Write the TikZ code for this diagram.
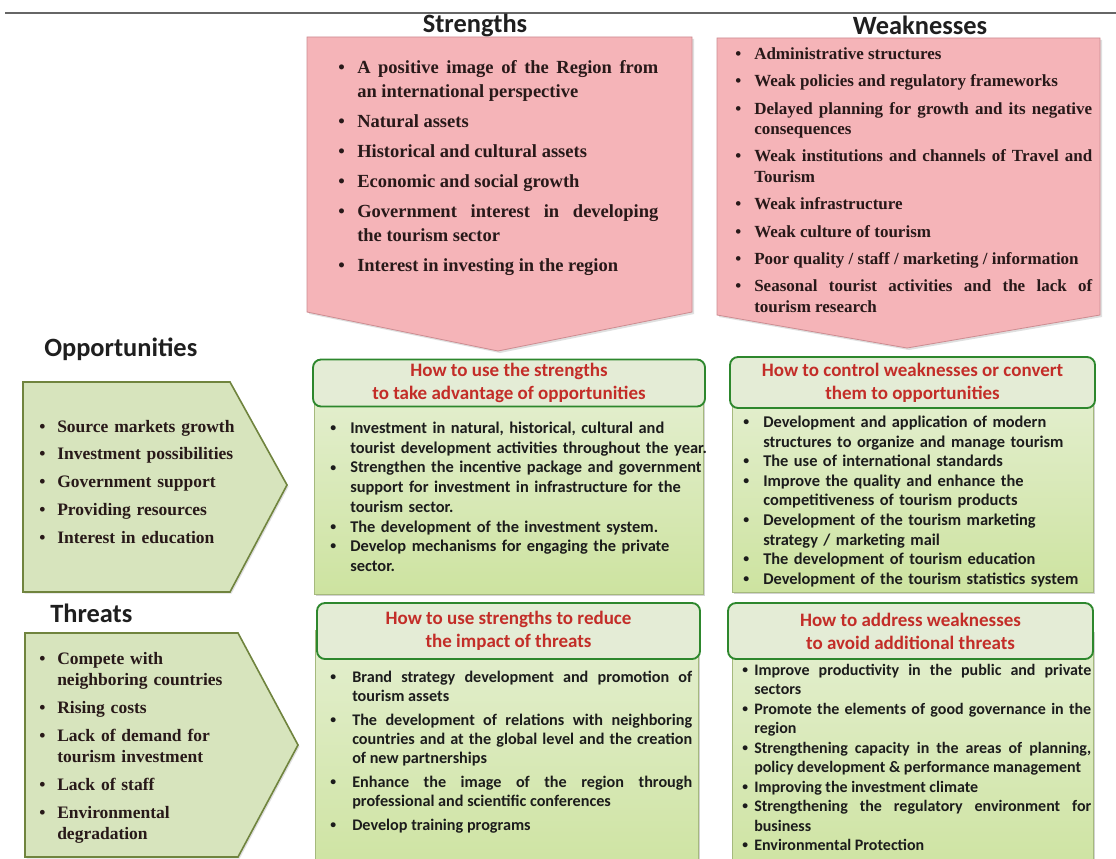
\documentclass[tikz,border=0pt]{standalone}
\usepackage{fontspec}
\usepackage{graphicx}
\setmainfont{Liberation Serif}
\newfontfamily\carl{Carlito}
\usetikzlibrary{shadows}
\definecolor{pinkf}{RGB}{245,180,184}
\definecolor{pinkd}{RGB}{205,140,145}
\definecolor{oppf}{RGB}{215,228,189}
\definecolor{oppd}{RGB}{112,132,62}
\definecolor{bodyt}{RGB}{228,239,208}
\definecolor{bodyb}{RGB}{205,227,160}
\definecolor{bodyd}{RGB}{165,185,125}
\definecolor{hdrf}{RGB}{228,236,214}
\definecolor{hdrd}{RGB}{45,135,45}
\definecolor{hdrt}{RGB}{195,45,40}
\definecolor{ink}{RGB}{40,25,25}
\definecolor{inkq}{RGB}{28,28,28}
\newlength\bulw
\newlength\itgap
\newcommand\bulchar{\textbullet}
\newcommand\sbul{\raisebox{0.12em}{\scalebox{0.72}{\textbullet}}}
\newcommand\lf{\noindent\hangindent=\bulw\hangafter=1\hbox to\bulw{\bulchar\hfil}\ignorespaces}
\newcommand\li{\par\vspace{\itgap}\lf}
\tikzset{
  lst/.style={anchor=base west, inner sep=0pt, text=ink},
  slist/.style={lst, align=justify, text width=240pt,
    font={\fontsize{13.875pt}{18pt}\selectfont\bfseries\setlength\bulw{14.25pt}\setlength\itgap{4.5pt}}},
  wlist/.style={lst, align=justify, text width=267.75pt,
    font={\fontsize{12.75pt}{15.375pt}\selectfont\bfseries\setlength\bulw{14.25pt}\setlength\itgap{5.1pt}}},
  olist/.style={lst, align=left, text width=157.5pt,
    font={\fontsize{13.125pt}{16.125pt}\selectfont\bfseries\setlength\bulw{13.5pt}\setlength\itgap{4.7pt}}},
  qlist/.style={lst, text=inkq},
  ttl/.style={inner sep=0pt, text=black!88, font={\carl\bfseries\fontsize{19.8pt}{23pt}\selectfont}},
  pinkshape/.style={fill=pinkf, draw=pinkd, line width=0.6pt,
    drop shadow={shadow xshift=1.5pt, shadow yshift=-1.5pt, opacity=0.25}},
  oppshape/.style={fill=oppf, draw=oppd, line width=1.2pt,
    drop shadow={shadow xshift=1.2pt, shadow yshift=-1.2pt, opacity=0.25}},
  bodybox/.style={draw=bodyd, line width=0.6pt, top color=bodyt, bottom color=bodyb,
    drop shadow={shadow xshift=1.5pt, shadow yshift=-1.5pt, opacity=0.35}},
  hdr/.style={draw=hdrd, line width=1.4pt, fill=hdrf, rounded corners=6pt, inner sep=0pt,
    align=center, text=hdrt, font={\carl\bfseries\fontsize{14.25pt}{17.25pt}\selectfont}},
}
\begin{document}
\begin{tikzpicture}[x=0.75pt,y=-0.75pt]
\useasboundingbox (0,0) rectangle (1116,859);
\fill[white] (0,0) rectangle (1116,859);
\clip (0,0) rectangle (1116,859);
% top rule
\draw[black!60, line width=1.5pt] (5,13) -- (1116,13);
% titles
\node[ttl] (st) at (475,25) {Strengths};
\node[ttl] (wt) at (920,25) {Weaknesses};
\node[ttl, anchor=west] (ot) at (44,349) {Opportunities};
\node[ttl, anchor=west] (tt) at (50,613) {Threats};
% pink pentagons
\draw[pinkshape] (307,37) -- (692,37) -- (692,312) -- (498,351) -- (307,312) -- cycle;
\draw[pinkshape] (717,38) -- (1100,38) -- (1100,315) -- (907,348) -- (717,315) -- cycle;
% green pentagons
\draw[oppshape] (23,382) -- (230,382) -- (287,485) -- (230,592) -- (23,592) -- cycle;
\draw[oppshape] (25,633) -- (238,633) -- (298,745) -- (238,857) -- (25,857) -- cycle;
% quadrant bodies
\draw[bodybox] (314,386) rectangle (703,594);
\draw[bodybox] (732,386) rectangle (1093,592);
\draw[bodybox] (315,630) rectangle (698,880);
\draw[bodybox] (732,630) rectangle (1093,880);
% headers
\node[hdr, minimum width=294pt, minimum height=35.25pt] (h1) at (509,383)
  {How to use the strengths\\to take advantage of opportunities};
\node[hdr, minimum width=273.75pt, minimum height=38.25pt] (h2) at (912.5,382.5)
  {How to control weaknesses or convert\\them to opportunities};
\node[hdr, minimum width=287.25pt, minimum height=42pt] (h3) at (508.5,631)
  {How to use strengths to reduce\\the impact of threats};
\node[hdr, minimum width=273.75pt, minimum height=42pt] (h4) at (910.5,631)
  {How to address weaknesses\\to avoid additional threats};
% strengths list
\node[slist] (sl) at (338,74) {\lf A positive image of the Region from\linebreak an international perspective
\li Natural assets
\li Historical and cultural assets
\li Economic and social growth
\li Government interest in developing\linebreak the tourism sector
\li Interest in investing in the region\par};
% weaknesses list
\node[wlist] (wl) at (735,59.6) {\lf Administrative structures
\li Weak policies and regulatory frameworks
\li Delayed planning for growth and its negative\linebreak consequences
\li Weak institutions and channels of Travel and\linebreak Tourism
\li Weak infrastructure
\li Weak culture of tourism
\li Poor quality / staff / marketing / information
\li Seasonal tourist activities and the lack of\linebreak tourism research\par};
% opportunities list
\node[olist] (ol) at (39,432) {\lf Source markets growth
\li Investment possibilities
\li Government support
\li Providing resources
\li Interest in education\par};
% threats list
\node[olist] (tl) at (39,664) {\lf Compete with\newline neighboring countries
\li Rising costs
\li Lack of demand for\newline tourism investment
\li Lack of staff
\li Environmental\newline degradation\par};
% quadrant lists
\node[qlist, align=left, text width=285pt,
  font={\carl\bfseries\fontsize{12.3pt}{14.8pt}\selectfont\let\bulchar\sbul\setlength\bulw{15pt}\setlength\itgap{0pt}}]
  (q1) at (330,433.5) {\lf Investment in natural, historical, cultural and\newline tourist development activities throughout the year.
\li Strengthen the incentive package and government\newline support for investment in infrastructure for the\newline tourism sector.
\li The development of the investment system.
\li Develop mechanisms for engaging the private\newline sector.\par};
\node[qlist, align=left, text width=262.5pt,
  font={\carl\bfseries\fontsize{12.3pt}{14.7pt}\selectfont\let\bulchar\sbul\setlength\bulw{15pt}\setlength\itgap{0pt}}]
  (q2) at (743,427.5) {\lf Development and application of modern\newline structures to organize and manage tourism
\li The use of international standards
\li Improve the quality and enhance the\newline competitiveness of tourism products
\li Development of the tourism marketing\newline strategy / marketing mail
\li The development of tourism education
\li Development of the tourism statistics system\par};
\node[qlist, align=justify, text width=271.5pt,
  font={\carl\bfseries\fontsize{12.15pt}{14.25pt}\selectfont\let\bulchar\sbul\setlength\bulw{16.5pt}\setlength\itgap{3.75pt}}]
  (q3) at (330,682.5) {\lf Brand strategy development and promotion of\linebreak tourism assets
\li The development of relations with neighboring\linebreak countries and at the global level and the creation\linebreak of new partnerships
\li Enhance the image of the region through\linebreak professional and scientific conferences
\li Develop training programs\par};
\node[qlist, align=justify, text width=261.75pt,
  font={\carl\bfseries\fontsize{12pt}{14.6pt}\selectfont\let\bulchar\sbul\setlength\bulw{9pt}\setlength\itgap{0pt}}]
  (q4) at (742,675.5) {\lf Improve productivity in the public and private\linebreak sectors
\li Promote the elements of good governance in the\linebreak region
\li Strengthening capacity in the areas of planning,\linebreak policy development \& performance management
\li Improving the investment climate
\li Strengthening the regulatory environment for\linebreak business
\li Environmental Protection\par};
\end{tikzpicture}
\end{document}
